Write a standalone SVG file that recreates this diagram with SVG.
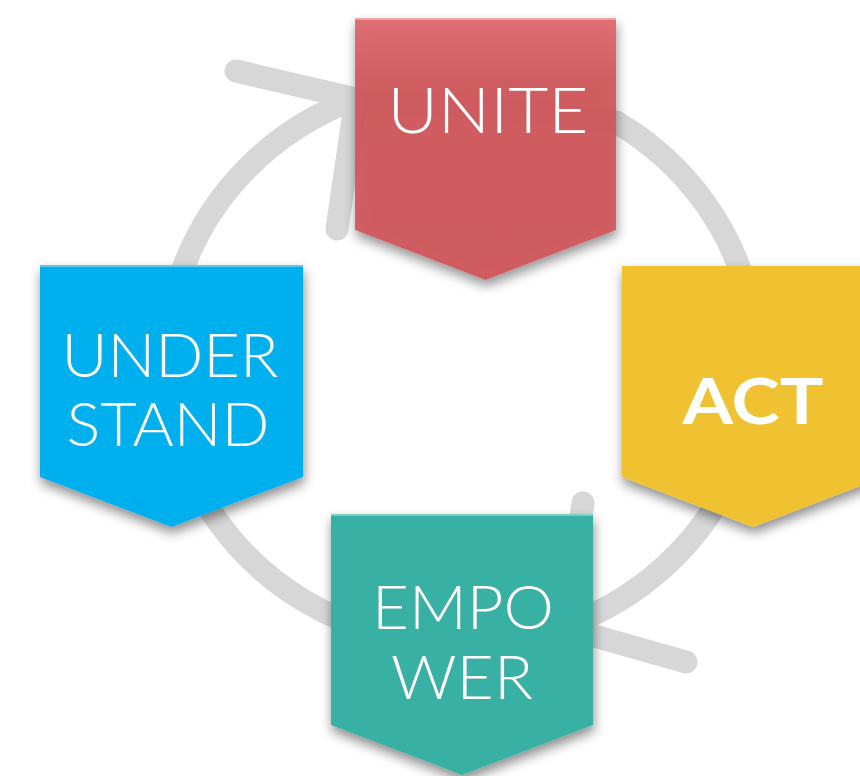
<svg xmlns="http://www.w3.org/2000/svg" width="860" height="776" viewBox="0 0 860 776">
  <defs>
    <filter id="shadow" x="-20%" y="-20%" width="140%" height="140%">
      <feDropShadow dx="1" dy="6" stdDeviation="6" flood-color="#000" flood-opacity="0.45"/>
    </filter>
    <linearGradient id="redGrad" x1="0" y1="0" x2="0" y2="1">
      <stop offset="0" stop-color="#DE686C"/>
      <stop offset="0.25" stop-color="#D0575C"/>
      <stop offset="1" stop-color="#CF565B"/>
    </linearGradient>
    <style>
      .ring { fill: none; stroke: #D7D7D7; stroke-width: 23; stroke-linecap: round; stroke-linejoin: round; }
      .box { filter: url(#shadow); }
      .lbl { fill: #FFFFFF; font-family: "Lato", "Open Sans", "Liberation Sans", sans-serif; font-weight: 300; text-anchor: middle; }
      .bold { font-weight: 700; }
      .hl { stroke: #FFFFFF; stroke-opacity: 0.35; stroke-width: 2; }
    </style>
  </defs>
  <rect width="860" height="776" fill="#FFFFFF"/>

  <g id="connectors">
    <path class="ring" d="M 616,122 A 295 282 0 1 1 350,101 Q 485,104 616,122"/>
    <path class="ring" d="M 236,71 L 356,99 L 337,229"/>
    <path class="ring" d="M 686,662 L 566,628 L 583,503"/>
  </g>

  <g id="node-understand">
    <polygon class="box" points="40,265 303,265 303,477 171.5,527 40,477" fill="#03B0EE"/>
    <line class="hl" x1="40" y1="266" x2="303" y2="266"/>
    <text class="lbl" x="170" y="377" font-size="62" textLength="217" lengthAdjust="spacingAndGlyphs">UNDER</text>
    <text class="lbl" x="168" y="446" font-size="62" textLength="203" lengthAdjust="spacingAndGlyphs">STAND</text>
  </g>

  <g id="node-act">
    <polygon class="box" points="622,266 884,266 884,477 753,527 622,477" fill="#F0C233"/>
    <text class="lbl bold" x="753" y="424" font-size="64" textLength="141" lengthAdjust="spacingAndGlyphs">ACT</text>
  </g>

  <g id="node-empower">
    <polygon class="box" points="331,514 593,514 593,725 462,775 331,725" fill="#38B0A4"/>
    <line class="hl" x1="331" y1="515" x2="593" y2="515"/>
    <text class="lbl" x="463" y="629" font-size="62" textLength="182" lengthAdjust="spacingAndGlyphs">EMPO</text>
    <text class="lbl" x="462" y="699" font-size="62" textLength="142" lengthAdjust="spacingAndGlyphs">WER</text>
  </g>

  <g id="node-unite">
    <polygon class="box" points="355,18 616,18 616,230 485.5,280 355,230" fill="url(#redGrad)" fill-opacity="0.93"/>
    <line class="hl" x1="355" y1="19" x2="616" y2="19"/>
    <text class="lbl" x="488" y="133" font-size="64" textLength="201" lengthAdjust="spacingAndGlyphs">UNITE</text>
  </g>
</svg>
